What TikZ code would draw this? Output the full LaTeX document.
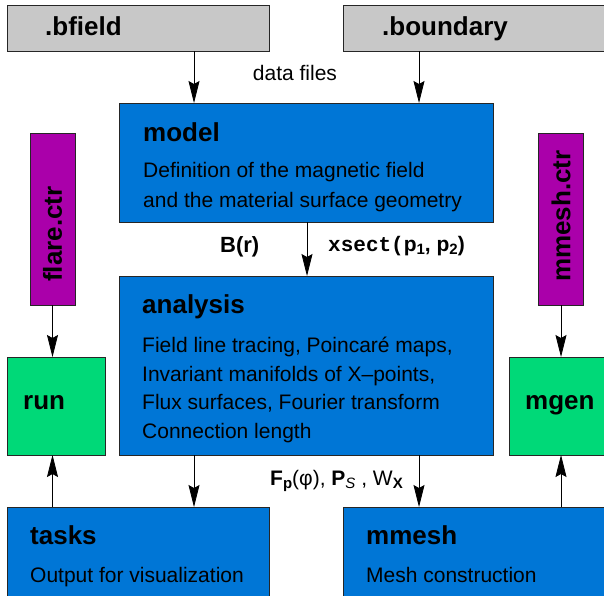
\documentclass[tikz,border=0pt]{standalone}
\usepackage{fontspec}
\setmainfont{Liberation Sans}
\newfontfamily\monob{Liberation Mono}
\usetikzlibrary{arrows.meta}
\definecolor{boxblue}{RGB}{0,118,214}
\definecolor{boxgray}{RGB}{200,200,200}
\definecolor{boxgreen}{RGB}{0,217,120}
\definecolor{boxpurple}{RGB}{170,0,170}
\newcommand{\sbs}[1]{\raisebox{-0.35ex}{\fontsize{15}{15}\selectfont #1}}
\begin{document}
\begin{tikzpicture}[x=1pt,y=-1pt,
  box/.style={draw=black!85, line width=0.8pt, inner sep=0pt, outer sep=0pt, anchor=north west},
  title/.style={anchor=base west, inner sep=0pt, font=\fontsize{26}{30}\selectfont\bfseries},
  body/.style={anchor=base west, inner sep=0pt, font=\fontsize{21}{25}\selectfont},
  lab/.style={anchor=base west, inner sep=0pt, font=\fontsize{21}{25}\selectfont\bfseries},
  arr/.style={-{Stealth[length=22pt,width=11pt,inset=3pt]}, line width=0.8pt}]
\useasboundingbox (0,0) rectangle (604,595);
\clip (0,0) rectangle (604,595);
% boxes
\node[box, fill=boxgray, minimum width=262pt, minimum height=46pt] (bfield) at (7,5) {};
\node[box, fill=boxgray, minimum width=270pt, minimum height=46pt] (boundary) at (343,5) {};
\node[box, fill=boxblue, minimum width=374pt, minimum height=119pt] (model) at (119,103) {};
\node[box, fill=boxblue, minimum width=374pt, minimum height=179pt] (analysis) at (119,276) {};
\node[box, fill=boxpurple, minimum width=45pt, minimum height=172pt] (flare) at (30,133) {};
\node[box, fill=boxpurple, minimum width=45pt, minimum height=172pt] (mmeshctr) at (538,133) {};
\node[box, fill=boxgreen, minimum width=98pt, minimum height=98pt] (run) at (7,357) {};
\node[box, fill=boxgreen, minimum width=100pt, minimum height=98pt] (mgen) at (509,357) {};
\node[box, fill=boxblue, minimum width=262pt, minimum height=100pt] (tasks) at (7,507) {};
\node[box, fill=boxblue, minimum width=270pt, minimum height=100pt] (mmesh) at (343,507) {};
% arrow columns
\coordinate (xa) at (194,0);
\coordinate (xb) at (419,0);
\coordinate (xc) at (307,0);
\coordinate (xl) at (52.5,0);
\coordinate (xr) at (561,0);
\draw[arr] (bfield.south -| xa) -- (model.north -| xa);
\draw[arr] (boundary.south -| xb) -- (model.north -| xb);
\draw[arr] (model.south -| xc) -- (analysis.north -| xc);
\draw[arr] (flare.south -| xl) -- (run.north -| xl);
\draw[arr] (mmeshctr.south -| xr) -- (mgen.north -| xr);
\draw[arr] (analysis.south -| xa) -- (tasks.north -| xa);
\draw[arr] (analysis.south -| xb) -- (mmesh.north -| xb);
\draw[arr] (tasks.north -| xl) -- (run.south -| xl);
\draw[arr] (mmesh.north -| xr) -- (mgen.south -| xr);
% texts
\node[title] (tbf) at (45,35) {.bfield};
\node[title] (tbd) at (382,35) {.boundary};
\node[body, anchor=base] (df) at (295,80) {data files};
\node[title] (tm) at (143,141) {model};
\node[body] (m1) at (143,177) {Definition of the magnetic field};
\node[body] (m2) at (143,207) {and the material surface geometry};
\node[lab, font=\fontsize{22}{26}\selectfont\bfseries] (br) at (220,252) {B(r)};
\node[lab] (xs) at (328,251) {{\monob\bfseries xsect(}p\sbs{1}, p\sbs{2})};
\node[title] (ta) at (142,313) {analysis};
\node[body] (a1) at (142,352) {Field line tracing, Poincaré maps,};
\node[body] (a2) at (142,381) {Invariant manifolds of X–points,};
\node[body] (a3) at (142,409) {Flux surfaces, Fourier transform};
\node[body] (a4) at (142,438) {Connection length};
\node[title, rotate=90, anchor=west] (tf) at (52.5,282) {flare.ctr};
\node[title, rotate=90, anchor=west] (tmc) at (561,282) {mmesh.ctr};
\node[title] (tr) at (23,409) {run};
\node[title] (tg) at (525,409) {mgen};
\node[title] (tt) at (30,544) {tasks};
\node[body] (to) at (30,582) {Output for visualization};
\node[title] (tmm) at (366,544) {mmesh};
\node[body] (tmo) at (366,582) {Mesh construction};
\node[lab] (fl) at (270,485) {F\sbs{p}\mdseries(φ), \bfseries P\sbs{\mdseries\itshape S}\mdseries\ , W\sbs{\bfseries X}};
\end{tikzpicture}
\end{document}
